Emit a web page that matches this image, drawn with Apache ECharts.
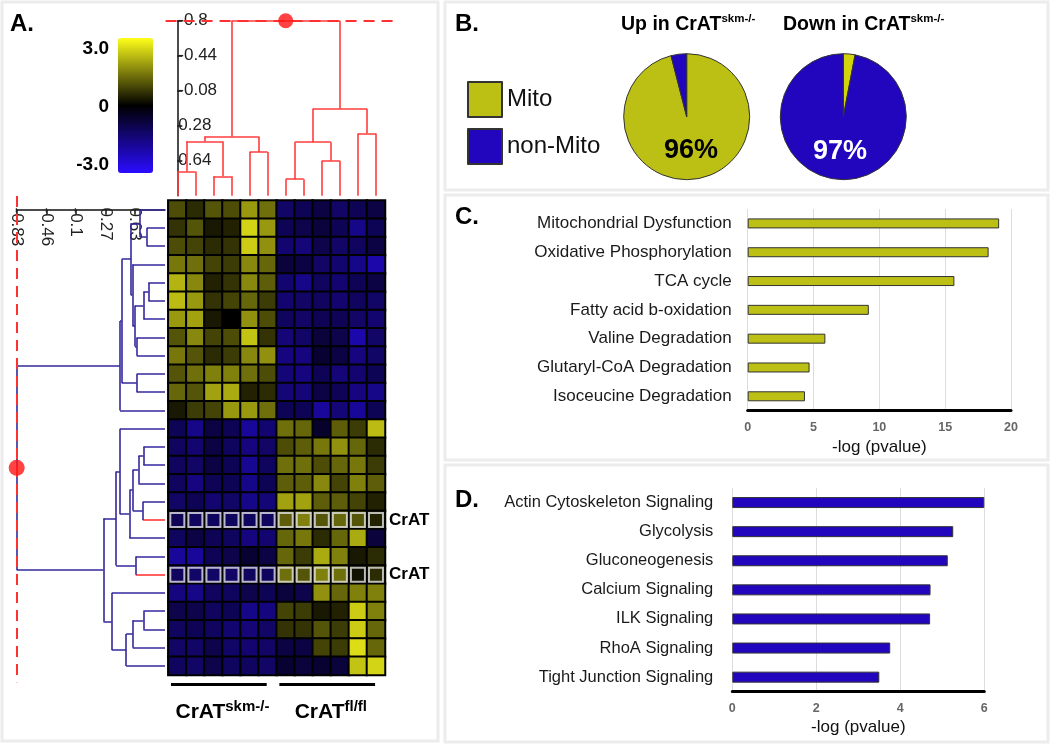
<!DOCTYPE html>
<html><head><meta charset="utf-8">
<script src="https://cdn.jsdelivr.net/npm/echarts@6/dist/echarts.min.js"></script>
<style>html,body{margin:0;padding:0;background:#fff}#c{width:1050px;height:745px}</style>
</head><body><div id="c"></div>
<script>
const FONT = "'Liberation Sans', Arial, Helvetica, sans-serif";

// ---------- Panel A data ----------
const sampleCols = ['s1','s2','s3','s4','s5','s6','s7','s8','s9','s10','s11','s12'];
const heatValues = [
 [0.9,0.5,1.0,0.9,1.8,1.3,-1.2,-1.0,-0.8,-1.2,-1.0,-0.8],
 [0.6,1.0,0.3,0.4,2.5,1.8,-1.0,-0.9,-0.7,-1.0,-1.6,-1.0],
 [0.9,0.8,0.5,0.6,2.4,1.7,-1.3,-1.4,-0.9,-1.2,-1.1,-0.8],
 [1.4,1.3,0.8,0.7,1.6,1.2,-0.7,-0.8,-1.2,-1.3,-1.6,-2.0],
 [2.1,1.6,0.4,0.6,1.6,1.1,-1.3,-1.6,-1.1,-1.3,-1.0,-0.8],
 [2.2,1.8,0.6,0.8,1.2,0.7,-1.3,-1.2,-1.1,-1.3,-1.1,-1.2],
 [1.8,1.9,0.3,0.0,1.7,0.9,-1.1,-1.2,-1.0,-1.0,-1.2,-1.3],
 [1.0,1.6,0.8,0.9,2.3,0.6,-1.4,-1.2,-0.7,-0.9,-2.0,-1.2],
 [1.4,1.0,0.5,0.7,1.6,1.7,-1.5,-1.5,-0.6,-0.8,-1.5,-1.2],
 [1.0,1.3,1.5,1.5,1.3,0.9,-1.4,-1.5,-1.0,-1.4,-1.3,-1.0],
 [1.2,1.0,1.9,2.0,0.4,0.5,-1.4,-1.4,-0.8,-1.0,-1.5,-1.6],
 [0.3,0.7,0.8,1.8,1.8,1.3,-1.0,-1.0,-1.8,-1.4,-1.8,-1.0],
 [-1.0,-1.6,-0.8,-1.0,-1.8,-1.3,1.3,1.2,-0.5,1.1,0.7,2.2],
 [-1.1,-1.3,-0.8,-1.1,-1.5,-1.2,0.9,1.1,1.4,1.7,1.2,0.5],
 [-1.1,-1.2,-0.8,-1.0,-1.7,-1.1,1.3,1.3,0.9,1.2,1.4,0.7],
 [-1.1,-1.5,-1.0,-1.0,-1.6,-1.0,1.1,1.1,1.6,0.8,1.5,1.1],
 [-1.2,-1.0,-1.3,-1.2,-1.6,-1.4,1.9,1.9,1.1,1.1,0.8,0.4],
 [-1.0,-1.1,-1.1,-1.1,-1.1,-1.1,1.1,1.5,1.0,1.2,1.0,0.4],
 [-1.1,-0.8,-1.0,-1.1,-1.5,-1.3,1.2,1.4,0.5,1.2,2.0,-0.7],
 [-1.8,-1.8,-1.0,-0.9,-0.6,-0.8,1.2,0.7,2.0,1.5,0.3,0.5],
 [-1.1,-1.2,-1.2,-1.2,-1.1,-1.1,1.3,1.0,1.5,1.3,0.2,0.5],
 [-1.5,-1.6,-1.1,-1.1,-0.9,-1.0,-0.7,-0.9,1.7,1.2,1.5,1.5],
 [-0.9,-0.9,-1.1,-1.0,-1.6,-1.5,0.8,0.7,0.3,0.4,2.4,1.5],
 [-1.1,-1.0,-1.1,-1.3,-1.4,-1.2,0.6,0.6,1.0,0.7,2.4,1.2],
 [-1.2,-1.2,-0.9,-1.2,-1.3,-1.2,-0.8,-0.8,0.8,0.7,2.6,1.2],
 [-1.1,-1.2,-0.9,-1.1,-1.1,-1.2,-0.6,-0.7,-0.6,-0.7,2.3,2.5]
];
const rowLabels = ['','','','','','','','','','','','','','','','','','CrAT','','','CrAT','','','','',''];
const groupSpans = [[0,5],[6,11]];
const groupLabels = ['{m|CrAT}{s|skm-/-}','{m|CrAT}{s|fl/fl}'];
const colorbarLabels = ['3.0','0','-3.0'];
const topTicks = [-0.8,-0.44,-0.08,0.28,0.64];
const leftTicks = [-0.83,-0.46,-0.1,0.27,0.63];
// linkage: [childA, childB, height]; new node ids start at the number of leaves
const topMerges = [[0,1,0.75],[2,3,0.80],[12,13,0.44],[4,5,0.55],[14,15,0.39],[6,7,0.83],[8,9,0.64],[17,18,0.45],[10,11,0.36],[19,20,0.105],[16,21,-0.8]];
const leftMerges = [
 [1,2,0.775],[0,26,0.69],[4,5,0.795],[28,6,0.733],[7,8,0.651],[29,30,0.63],[3,31,0.597],[27,32,0.581],
 [9,10,0.651],[33,34,0.466],[35,11,0.445],
 [13,14,0.733],[37,15,0.671],[16,17,0.726],[38,39,0.602],[40,18,0.56],[12,41,0.445],[19,20,0.639],[42,43,0.396],
 [22,23,0.733],[45,24,0.602],[46,25,0.52],[21,47,0.343],[44,48,0.24],[36,49,-0.83]
];

// ---------- Panel B data ----------
const pieNames = ['Mito','non-Mito'];
const pieUp = [96, 4];
const pieDown = [3, 97];

// ---------- Panel C / D data ----------
const cLabels = ['Mitochondrial Dysfunction','Oxidative Phosphorylation','TCA cycle','Fatty acid b-oxidation','Valine Degradation','Glutaryl-CoA Degradation','Isoceucine Degradation'];
const cValues = [19.1,18.3,15.7,9.2,5.9,4.7,4.35];
const dLabels = ['Actin Cytoskeleton Signaling','Glycolysis','Gluconeogenesis','Calcium Signaling','ILK Signaling','RhoA Signaling','Tight Junction Signaling'];
const dValues = [6.0,5.26,5.13,4.72,4.71,3.76,3.5];

// ---------- helpers ----------
const MITO = '#bcbf14', NONMITO = '#2206bd';
const heatData = [];
heatValues.forEach((row, r) => row.forEach((v, c) => heatData.push([c, r, v])));
const boxData = [];
rowLabels.forEach((l, r) => { if (l) sampleCols.forEach((s, c) => boxData.push([c, r])); });
const redRows = rowLabels.map((l, i) => l ? i : -1).filter(i => i >= 0);

function buildDendro(n, merges, leafH) {
  const pos = [], ht = [];
  for (let i = 0; i < n; i++) { pos.push(i); ht.push(leafH); }
  const links = [], joins = [];
  merges.forEach(([a, b, h]) => {
    pos.push((pos[a] + pos[b]) / 2); ht.push(h);
    links.push({ node: a, pos: pos[a], h0: ht[a], h1: h });
    links.push({ node: b, pos: pos[b], h0: ht[b], h1: h });
    joins.push({ p0: pos[a], p1: pos[b], h });
  });
  return { links, joins, rootPos: pos[pos.length - 1], rootH: ht[ht.length - 1] };
}
const topTree = buildDendro(12, topMerges, 1.0);
const leftTree = buildDendro(26, leftMerges, 1.0);
const TOPRED = '#ff3c3c', LEFTBLUE = '#33299b';
const topLines = topTree.links.map(l => ({ coords: [[l.pos, l.h0], [l.pos, l.h1]] }))
  .concat(topTree.joins.map(j => ({ coords: [[j.p0, j.h], [j.p1, j.h]] })));
const leftLines = leftTree.links.map(l => ({ coords: [[l.h0, l.pos], [l.h1, l.pos]],
    lineStyle: { color: redRows.includes(l.node) ? '#ff2a2a' : LEFTBLUE } }))
  .concat(leftTree.joins.map(j => ({ coords: [[j.h, j.p0], [j.h, j.p1]] })));
const bracketLines = groupSpans.map(([s, e]) => ({ coords: [[s - 0.35, 0.5], [e - 0.05, 0.5]] }));

const HX = 168.3, HW = 216.7, HY = 200.5, HH = 474.5;
const chart = echarts.init(document.getElementById('c'), null, { renderer: 'canvas' });

const panelFrame = (x, y, w, h) => ({ type: 'rect', shape: { x, y, width: w, height: h }, style: { fill: 'none', stroke: '#ececec', lineWidth: 3 }, silent: true, z: -10 });
const panelLetter = (t, x, y) => ({ type: 'text', x, y, style: { text: t, font: 'bold 24px ' + FONT, fill: '#000', textVerticalAlign: 'middle' }, silent: true });
const cbLabel = (t, y) => ({ type: 'text', x: 109, y, style: { text: t, font: 'bold 19px ' + FONT, fill: '#000', textAlign: 'right', textVerticalAlign: 'middle' }, silent: true });

const axisLab = { fontFamily: FONT, fontSize: 17, color: '#222' };
const titleRich = {
  m: { fontFamily: FONT, fontSize: 19.5, fontWeight: 'bold', color: '#000', verticalAlign: 'bottom', lineHeight: 22 },
  s: { fontFamily: FONT, fontSize: 11.5, fontWeight: 'bold', color: '#000', verticalAlign: 'top', lineHeight: 22 }
};
const groupRich = {
  m: { fontFamily: FONT, fontSize: 21, fontWeight: 'bold', color: '#000', verticalAlign: 'bottom', lineHeight: 24 },
  s: { fontFamily: FONT, fontSize: 15, fontWeight: 'bold', color: '#000', verticalAlign: 'top', lineHeight: 24 }
};

const option = {
  animation: false,
  backgroundColor: '#fff',
  textStyle: { fontFamily: FONT },
  title: [
    { text: '{m|Up in CrAT}{s|skm-/-}', left: 621, top: 13, padding: 0, textStyle: { rich: titleRich } },
    { text: '{m|Down in CrAT}{s|skm-/-}', left: 783, top: 13, padding: 0, textStyle: { rich: titleRich } }
  ],
  graphic: [
    panelFrame(2, 2, 436, 739),
    panelFrame(445, 2, 603, 188),
    panelFrame(445, 195, 603, 265),
    panelFrame(445, 465, 603, 277),
    panelLetter('A.', 10, 24),
    panelLetter('B.', 455, 24),
    panelLetter('C.', 455, 217),
    panelLetter('D.', 455, 500),
    cbLabel(colorbarLabels[0], 49),
    cbLabel(colorbarLabels[1], 107),
    cbLabel(colorbarLabels[2], 165)
  ],
  visualMap: {
    type: 'continuous', min: -3, max: 3, seriesIndex: 0, calculable: false, show: true,
    left: 118, top: 38, padding: 0, itemWidth: 35, itemHeight: 135, text: null, hoverLink: false,
    inRange: { color: ['#2a0cff', '#000000', '#ffff1a'] }
  },
  legend: {
    data: pieNames, orient: 'vertical', left: 462, top: 76, itemWidth: 34, itemHeight: 35, itemGap: 10,
    icon: 'rect', selectedMode: false, textStyle: { fontFamily: FONT, fontSize: 24, color: '#111' }
  },
  grid: [
    { left: HX, top: HY, width: HW, height: HH },
    { left: HX, top: 20.7, width: HW, height: 175 },
    { left: 16.7, top: HY, width: 148.3, height: HH },
    { left: HX, top: 683, width: HW, height: 2 },
    { left: 747.7, top: 209, width: 263.3, height: 201.7 },
    { left: 732.3, top: 488, width: 252, height: 203.7 }
  ],
  xAxis: [
    { gridIndex: 0, type: 'category', data: sampleCols, show: false },
    { gridIndex: 1, type: 'value', min: -0.5, max: 11.5, show: false },
    { gridIndex: 2, type: 'value', min: -0.83, max: 1.0, position: 'top',
      axisLine: { show: true, lineStyle: { color: '#111', width: 1.5 } },
      axisTick: { show: true, inside: true, length: 5, customValues: leftTicks, lineStyle: { color: '#111', width: 1.5 } },
      axisLabel: Object.assign({ inside: true, rotate: -90, margin: 7, customValues: leftTicks, formatter: v => String(v) }, axisLab),
      splitLine: { show: false } },
    { gridIndex: 3, type: 'value', min: -0.5, max: 11.5, show: false },
    { gridIndex: 3, type: 'category', data: groupLabels, position: 'bottom',
      axisLine: { show: false }, axisTick: { show: false },
      axisLabel: { margin: 14, interval: 0, rich: groupRich } },
    { gridIndex: 4, type: 'value', min: 0, max: 20, interval: 5,
      axisLine: { show: true, lineStyle: { color: '#000', width: 3 } }, axisTick: { show: false },
      axisLabel: { fontFamily: FONT, fontSize: 12.5, fontWeight: 'bold', color: '#666', margin: 10 },
      splitLine: { show: true, lineStyle: { color: '#dcdcdc', width: 1 } },
      name: '-log (pvalue)', nameLocation: 'middle', nameGap: 28, nameTextStyle: { fontFamily: FONT, fontSize: 17, color: '#111' } },
    { gridIndex: 5, type: 'value', min: 0, max: 6, interval: 2,
      axisLine: { show: true, lineStyle: { color: '#000', width: 3 } }, axisTick: { show: false },
      axisLabel: { fontFamily: FONT, fontSize: 12.5, fontWeight: 'bold', color: '#666', margin: 10 },
      splitLine: { show: true, lineStyle: { color: '#dcdcdc', width: 1 } },
      name: '-log (pvalue)', nameLocation: 'middle', nameGap: 27, nameTextStyle: { fontFamily: FONT, fontSize: 17, color: '#111' } }
  ],
  yAxis: [
    { gridIndex: 0, type: 'category', data: rowLabels.map((l, i) => 'r' + i), inverse: true, show: false },
    { gridIndex: 0, type: 'category', data: rowLabels, inverse: true, position: 'right',
      axisLine: { show: false }, axisTick: { show: false },
      axisLabel: { margin: 4, fontFamily: FONT, fontSize: 17, fontWeight: 'bold', color: '#000', interval: 0 } },
    { gridIndex: 1, type: 'value', min: -0.8, max: 1.0, inverse: true, position: 'left', offset: -3,
      axisLine: { show: true, lineStyle: { color: '#111', width: 1.5 } },
      axisTick: { show: true, inside: true, length: 5, customValues: topTicks, lineStyle: { color: '#111', width: 1.5 } },
      axisLabel: Object.assign({ inside: true, margin: 7, customValues: topTicks, formatter: v => String(v) }, axisLab),
      splitLine: { show: false } },
    { gridIndex: 2, type: 'value', min: -0.5, max: 25.5, inverse: true, show: false },
    { gridIndex: 3, type: 'value', min: 0, max: 1, show: false },
    { gridIndex: 4, type: 'category', data: cLabels, inverse: true,
      axisLine: { show: false }, axisTick: { show: false },
      axisLabel: { margin: 16, fontFamily: FONT, fontSize: 17, color: '#1a1a1a' } },
    { gridIndex: 5, type: 'category', data: dLabels, inverse: true,
      axisLine: { show: false }, axisTick: { show: false },
      axisLabel: { margin: 19, fontFamily: FONT, fontSize: 16.5, color: '#1a1a1a' } }
  ],
  series: [
    { type: 'heatmap', xAxisIndex: 0, yAxisIndex: 0, data: heatData, silent: true,
      itemStyle: { borderColor: '#000', borderWidth: 2 }, emphasis: { disabled: true } },
    { type: 'scatter', xAxisIndex: 0, yAxisIndex: 0, data: boxData, symbol: 'rect', symbolSize: 14, silent: true, z: 5,
      itemStyle: { color: 'rgba(0,0,0,0)', borderColor: '#e4e4e4', borderWidth: 2 } },
    { type: 'lines', coordinateSystem: 'cartesian2d', xAxisIndex: 1, yAxisIndex: 2, data: topLines, silent: true,
      lineStyle: { color: TOPRED, width: 1.6, opacity: 1 } },
    { type: 'lines', coordinateSystem: 'cartesian2d', xAxisIndex: 1, yAxisIndex: 2, clip: false, silent: true, z: 4,
      data: [{ coords: [[-0.65, topTree.rootH], [12.2, topTree.rootH]] }],
      lineStyle: { color: '#ff3030', width: 2, opacity: 1, type: [11, 7] } },
    { type: 'scatter', xAxisIndex: 1, yAxisIndex: 2, data: [[topTree.rootPos, topTree.rootH]], symbolSize: 15, silent: true, z: 6,
      itemStyle: { color: '#ff1414' } },
    { type: 'lines', coordinateSystem: 'cartesian2d', xAxisIndex: 2, yAxisIndex: 3, data: leftLines, silent: true,
      lineStyle: { color: LEFTBLUE, width: 1.6, opacity: 1 } },
    { type: 'lines', coordinateSystem: 'cartesian2d', xAxisIndex: 2, yAxisIndex: 3, clip: false, silent: true, z: 4,
      data: [{ coords: [[leftTree.rootH, -0.75], [leftTree.rootH, 25.9]] }],
      lineStyle: { color: '#ff3030', width: 2, opacity: 1, type: [11, 7] } },
    { type: 'scatter', xAxisIndex: 2, yAxisIndex: 3, data: [[leftTree.rootH, leftTree.rootPos]], symbolSize: 16, silent: true, z: 6,
      itemStyle: { color: '#ff1414' } },
    { type: 'lines', coordinateSystem: 'cartesian2d', xAxisIndex: 3, yAxisIndex: 4, data: bracketLines, silent: true,
      lineStyle: { color: '#000', width: 3, opacity: 1 } },
    { type: 'pie', name: 'up', center: [686.7, 116.7], radius: 63, startAngle: 90, clockwise: true, silent: true,
      itemStyle: { borderColor: '#333', borderWidth: 1 }, labelLine: { show: false }, emphasis: { disabled: true },
      label: { show: true, position: 'inside', formatter: '{d}%', fontFamily: FONT, fontSize: 27, fontWeight: 'bold', color: '#000' },
      data: [
        { name: pieNames[0], value: pieUp[0], itemStyle: { color: MITO } },
        { name: pieNames[1], value: pieUp[1], itemStyle: { color: NONMITO }, label: { show: false } }
      ] },
    { type: 'pie', name: 'down', center: [843.3, 116.7], radius: 63, startAngle: 90, clockwise: true, silent: true,
      itemStyle: { borderColor: '#333', borderWidth: 1 }, labelLine: { show: false }, emphasis: { disabled: true },
      label: { show: true, position: 'inside', formatter: '{d}%', fontFamily: FONT, fontSize: 27, fontWeight: 'bold', color: '#fff' },
      data: [
        { name: pieNames[0], value: pieDown[0], itemStyle: { color: '#d4d40c' }, label: { show: false } },
        { name: pieNames[1], value: pieDown[1], itemStyle: { color: NONMITO } }
      ] },
    { type: 'bar', xAxisIndex: 5, yAxisIndex: 5, data: cValues, barWidth: 10, silent: true,
      itemStyle: { color: MITO, borderColor: '#333', borderWidth: 1 } },
    { type: 'bar', xAxisIndex: 6, yAxisIndex: 6, data: dValues, barWidth: 11, silent: true,
      itemStyle: { color: NONMITO, borderColor: '#333', borderWidth: 1 } }
  ]
};
chart.setOption(option);
</script>
</body></html>
